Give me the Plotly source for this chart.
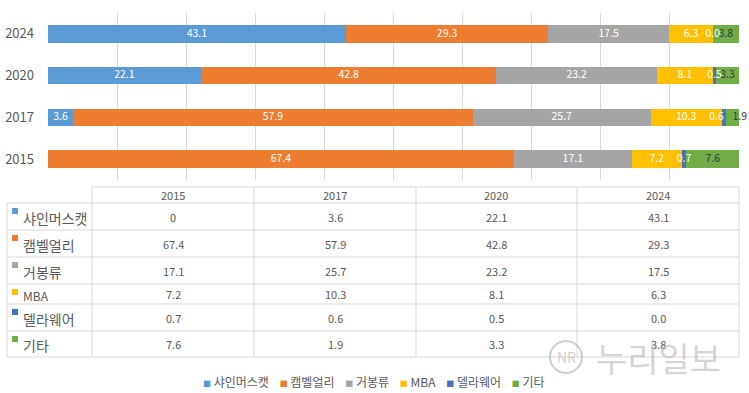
import plotly.graph_objects as go

W, H = 749, 393

years = ["2015", "2017", "2020", "2024"]
series_names = ["샤인머스캣", "캠벨얼리", "거봉류", "MBA", "델라웨어", "기타"]
shine = [0, 3.6, 22.1, 43.1]
campbell = [67.4, 57.9, 42.8, 29.3]
kyoho = [17.1, 25.7, 23.2, 17.5]
mba = [7.2, 10.3, 8.1, 6.3]
delaware = [0.7, 0.6, 0.5, 0.0]
others = [7.6, 1.9, 3.3, 3.8]

series_values = [shine, campbell, kyoho, mba, delaware, others]
colors = ["#5B9BD5", "#ED7D31", "#A5A5A5", "#FFC000", "#4472C4", "#70AD47"]
label_colors = ["white", "white", "white", "white", "white", "#3A3A3A"]
# label anchor per series (style only); crowded 2017 labels are nudged apart
label_pos = [
    ["middle center"] * 4,
    ["middle center"] * 4,
    ["middle center"] * 4,
    ["middle center"] * 4,
    ["middle center", "middle left", "middle center", "middle center"],
    ["middle center", "middle right", "middle center", "middle center"],
]

FONT = "Noto Sans CJK KR"
GRID = "#D9D9D9"
TXT = "#595959"


def fmt(v):
    return f"{v:.1f}" if isinstance(v, float) else str(v)


def px_x(p):
    return p / W


def px_y(p):
    return 1 - p / H


fig = go.Figure()

# stacked bars
for name, vals, col in zip(series_names, series_values, colors):
    fig.add_trace(go.Bar(
        y=years, x=vals, name=name, orientation="h",
        marker=dict(color=col, line=dict(width=0)),
        showlegend=False, hoverinfo="x+name",
    ))

# data labels on top of all bars (centre of each segment, from cumulative data)
base = [0.0] * len(years)
for name, vals, lc, pos in zip(series_names, series_values, label_colors, label_pos):
    xs = [b + v / 2 for b, v in zip(base, vals)]
    texts = ["" if (isinstance(v, int) and v == 0) else fmt(v) for v in vals]
    fig.add_trace(go.Scatter(
        y=years, x=xs, mode="text", text=texts, textposition=pos,
        textfont=dict(family=FONT, size=10.5, color=lc),
        showlegend=False, hoverinfo="skip", cliponaxis=False,
    ))
    base = [b + v for b, v in zip(base, vals)]

# ---- data table drawn with lines + text ----
col_edges = [92, 254, 416, 577, 739]
row_edges = [203, 230, 257, 284, 304, 331, 357]
header_top = 187
left_edge = 7

shapes = []


def hline(y, x0, x1):
    shapes.append(dict(type="line", xref="paper", yref="paper",
                       x0=px_x(x0), x1=px_x(x1), y0=px_y(y), y1=px_y(y),
                       line=dict(color=GRID, width=1)))


def vline(x, y0, y1):
    shapes.append(dict(type="line", xref="paper", yref="paper",
                       x0=px_x(x), x1=px_x(x), y0=px_y(y0), y1=px_y(y1),
                       line=dict(color=GRID, width=1)))


hline(header_top, col_edges[0], col_edges[-1])
for y in row_edges:
    hline(y, left_edge, col_edges[-1])
for x in col_edges:
    vline(x, header_top, row_edges[-1])
vline(left_edge, row_edges[0], row_edges[-1])

annotations = []

# header
for i, yr in enumerate(years):
    cx = (col_edges[i] + col_edges[i + 1]) / 2
    annotations.append(dict(text=yr, x=px_x(cx), y=px_y((header_top + row_edges[0]) / 2),
                            xref="paper", yref="paper", showarrow=False,
                            font=dict(family=FONT, size=11, color=TXT),
                            xanchor="center", yanchor="middle"))

# rows
for r, (name, vals, col) in enumerate(zip(series_names, series_values, colors)):
    y0, y1 = row_edges[r], row_edges[r + 1]
    cy = (y0 + y1) / 2
    shapes.append(dict(type="rect", xref="paper", yref="paper",
                       x0=px_x(12), x1=px_x(18), y0=px_y(y0 + 11), y1=px_y(y0 + 5),
                       fillcolor=col, line=dict(width=0)))
    is_latin = name.isascii()
    annotations.append(dict(text=name, x=px_x(21), y=px_y(cy + 1),
                            xref="paper", yref="paper", showarrow=False,
                            font=dict(family=FONT, size=12 if is_latin else 14, color=TXT),
                            xanchor="left", yanchor="middle"))
    for i in range(len(years)):
        cx = (col_edges[i] + col_edges[i + 1]) / 2
        annotations.append(dict(text=fmt(vals[i]), x=px_x(cx), y=px_y(cy),
                                xref="paper", yref="paper", showarrow=False,
                                font=dict(family=FONT, size=11, color=TXT),
                                xanchor="center", yanchor="middle"))

# legend as text
sp = "\u00a0" * 4
legend_txt = sp.join(
    f"<span style='color:{c};font-size:8px'>■</span> {n}" for n, c in zip(series_names, colors)
)
annotations.append(dict(text=legend_txt, x=px_x(374), y=px_y(381), xref="paper", yref="paper",
                        showarrow=False, font=dict(family=FONT, size=12, color=TXT),
                        xanchor="center", yanchor="middle"))

# watermark
annotations.append(dict(text="누리일보", x=px_x(658), y=px_y(357), xref="paper", yref="paper",
                        showarrow=False, font=dict(family=FONT, size=34, color="rgba(185,185,185,0.6)"),
                        xanchor="center", yanchor="middle"))
annotations.append(dict(text="NR", x=px_x(566), y=px_y(357), xref="paper", yref="paper",
                        showarrow=False, font=dict(family=FONT, size=14, color="rgba(185,185,185,0.7)"),
                        xanchor="center", yanchor="middle"))
shapes.append(dict(type="circle", xref="paper", yref="paper",
                   x0=px_x(550), x1=px_x(582), y0=px_y(373), y1=px_y(341),
                   line=dict(color="rgba(185,185,185,0.7)", width=2)))

fig.update_layout(
    width=W, height=H,
    margin=dict(l=0, r=0, t=0, b=0, autoexpand=False),
    paper_bgcolor="white", plot_bgcolor="white",
    barmode="stack", bargap=0.58,
    font=dict(family=FONT, color=TXT),
    xaxis=dict(domain=[px_x(48), px_x(739)], range=[0, 100], tick0=0, dtick=10,
               showgrid=True, gridcolor=GRID, gridwidth=1,
               showticklabels=False, zeroline=False, showline=False, ticks=""),
    yaxis=dict(domain=[px_y(180), px_y(13)], categoryorder="array",
               categoryarray=years, range=[-0.5, 3.5],
               tickfont=dict(family=FONT, size=13, color=TXT),
               showgrid=False, zeroline=False, showline=False, ticks="",
               ticklabelstandoff=13),
    annotations=annotations,
    shapes=shapes,
)

fig.write_html("out.html", config={"displayModeBar": False},
               post_script="document.body.style.margin='0px';")
